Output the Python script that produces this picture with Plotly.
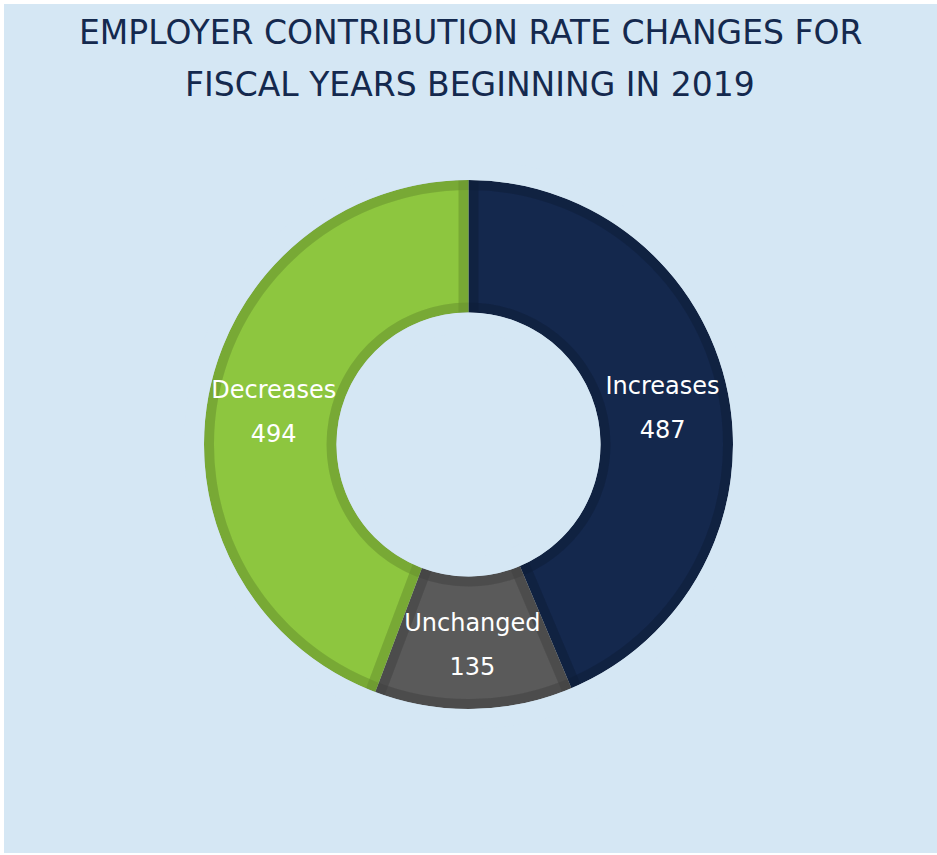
import plotly.graph_objects as go

# ---- data ----
categories = ["Increases", "Unchanged", "Decreases"]
counts = [487, 135, 494]
fill_colors = ["#14284D", "#5A5A5A", "#8DC63F"]
title_lines = ["EMPLOYER CONTRIBUTION RATE CHANGES FOR", "FISCAL YEARS BEGINNING IN 2019"]

# ---- layout constants (pixels) ----
W, H = 937, 855
BG = "#D5E7F4"
TITLE_COLOR = "#14294E"
CX, CY = 468.5, 444.5      # donut centre, px from top-left
R, RH = 264.5, 132.0       # outer / inner radius
BORDER = 10                # inner border width
EDGE = "rgba(0,0,0,0.075)"
CLEAR = "rgba(0,0,0,0)"
total = sum(counts)


def dom(radius, cy=CY):
    return dict(x=[(CX - radius) / W, (CX + radius) / W],
                y=[(H - cy - radius) / H, (H - cy + radius) / H])


common = dict(sort=False, direction="clockwise", rotation=0, showlegend=False)

fig = go.Figure()

# filled slices
fig.add_trace(go.Pie(labels=categories, values=counts, hole=RH / R, domain=dom(R),
                     marker=dict(colors=fill_colors, line=dict(width=0)),
                     textinfo="none", hoverinfo="label+value", **common))
# darker inner borders of the slices
fig.add_trace(go.Pie(labels=categories, values=counts, hole=RH / R, domain=dom(R),
                     marker=dict(colors=[CLEAR] * 3, line=dict(color=EDGE, width=2 * BORDER)),
                     textinfo="none", hoverinfo="skip", **common))
fig.add_trace(go.Pie(labels=["all"], values=[total], hole=RH / R, domain=dom(R),
                     marker=dict(colors=[CLEAR], line=dict(color=EDGE, width=2 * BORDER)),
                     textinfo="none", hoverinfo="skip", **common))
# mask the half of the border stroke that falls outside the ring
fig.add_trace(go.Pie(labels=["all"], values=[total], hole=(RH - BORDER) / (R + BORDER),
                     domain=dom(R + BORDER),
                     marker=dict(colors=[CLEAR], line=dict(color=BG, width=2 * BORDER)),
                     textinfo="none", hoverinfo="skip", **common))

# labels: category name line and value line
rho = 0.2706
R2 = 198 / (1 - rho)
for tmpl, dy in [("%{label}", -22), ("%{value}", 22)]:
    fig.add_trace(go.Pie(labels=categories, values=counts, hole=1 - 2 * rho,
                         domain=dom(R2, CY + 3 + dy),
                         marker=dict(colors=[CLEAR] * 3, line=dict(width=0)),
                         textposition="inside", insidetextorientation="horizontal",
                         texttemplate=tmpl,
                         insidetextfont=dict(family="DejaVu Sans", size=24, color="white"),
                         hoverinfo="skip", **common))

annotations = []
for line, ypx in zip(title_lines, [32, 84.5]):
    annotations.append(dict(text=line, x=CX / W + 0.002, y=(H - ypx) / H, xref="paper", yref="paper",
                            xanchor="center", yanchor="middle", showarrow=False,
                            font=dict(family="DejaVu Sans", size=33, color=TITLE_COLOR)))

fig.update_layout(
    width=W, height=H,
    margin=dict(l=0, r=0, t=0, b=0),
    paper_bgcolor="white",
    annotations=annotations,
    shapes=[dict(type="rect", xref="paper", yref="paper", layer="below",
                 x0=4 / W, x1=1, y0=2 / H, y1=(H - 4) / H,
                 fillcolor=BG, line=dict(width=0))],
)

fig.write_html("out.html", config={"displayModeBar": False},
               post_script="document.body.style.margin='0';document.body.style.overflow='hidden';")
